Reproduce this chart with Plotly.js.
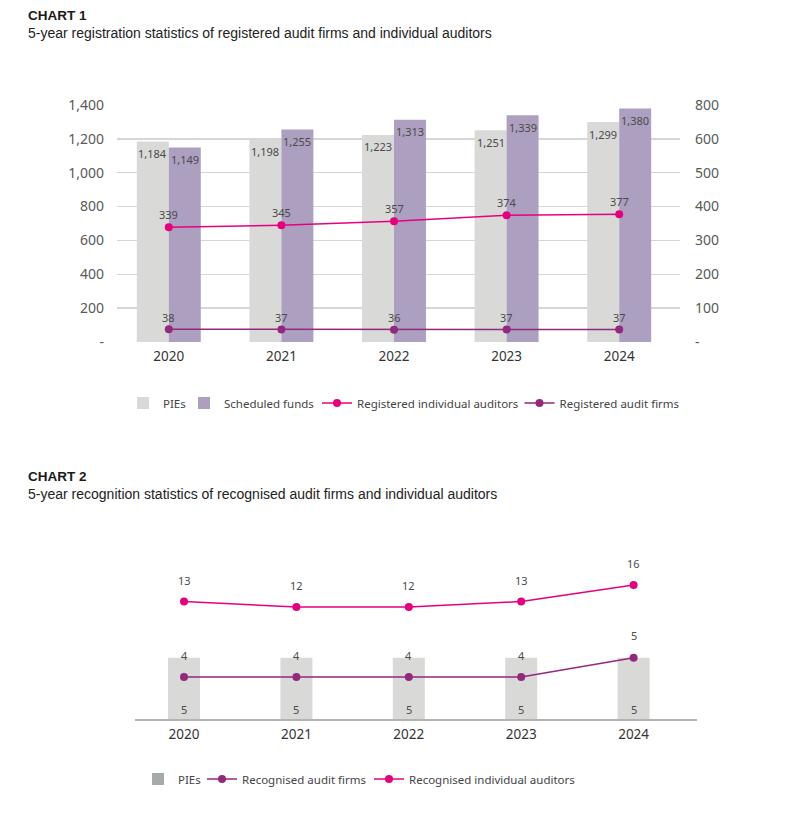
<!DOCTYPE html>
<html>
<head>
<meta charset="utf-8">
<script src="https://cdn.plot.ly/plotly-3.0.1.min.js"></script>
<style>
  html, body { margin: 0; padding: 0; background: #ffffff; }
  #chart { width: 801px; height: 828px; }
  #err { position: absolute; left: 5px; top: 440px; font: 11px monospace; color: red; }
</style>
</head>
<body>
<div id="chart"></div>
<div id="err"></div>
<script>
window.onerror = function (m) { document.getElementById('err').textContent += ' ' + m; };
// ---------- DATA ----------
// Chart 1: registration statistics
const years = ['2020', '2021', '2022', '2023', '2024'];
const piesRegistered = [1184, 1198, 1223, 1251, 1299];
const scheduledFunds = [1149, 1255, 1313, 1339, 1380];
const registeredIndividualAuditors = [339, 345, 357, 374, 377];
const registeredAuditFirms = [38, 37, 36, 37, 37];
const leftTickVals = [0, 200, 400, 600, 800, 1000, 1200, 1400];
const leftTickText = ['-', '200', '400', '600', '800', '1,000', '1,200', '1,400'];
const rightTickVals = [0, 100, 200, 300, 400, 500, 600, 700];
const rightTickText = ['-', '100', '200', '300', '400', '500', '600', '800'];

// Chart 2: recognition statistics
const piesRecognised = [5, 5, 5, 5, 5];
const recognisedAuditFirms = [4, 4, 4, 4, 5];
const recognisedIndividualAuditors = [13, 12, 12, 13, 16];

// ---------- HELPERS ----------
const W = 801, H = 828;
const px = v => v / W;
const py = v => 1 - v / H;
const fmt = n => n.toLocaleString('en-US');

const FONT = 'Noto Sans, Open Sans, DejaVu Sans, sans-serif';
const TITLE_FONT = 'Liberation Sans, Arial, Helvetica, sans-serif';
const C_PIE = '#d9d9d8';
const C_FUND = '#ad9fc0';
const C_IND = '#e6007e';
const C_FIRM = '#93297c';
const C_TEXT = '#4a4a4a';

// ---------- TRACES ----------
const barW = 0.284;
const traces = [
  {
    type: 'bar', name: 'PIEs', x: years, y: piesRegistered,
    xaxis: 'x', yaxis: 'y', width: barW, offset: -barW,
    marker: { color: C_PIE }, legend: 'legend'
  },
  {
    type: 'bar', name: 'Scheduled funds', x: years, y: scheduledFunds,
    xaxis: 'x', yaxis: 'y', width: barW, offset: 0,
    marker: { color: C_FUND }, legend: 'legend3'
  },
  {
    type: 'scatter', mode: 'lines+markers', name: 'Registered individual auditors',
    x: years, y: registeredIndividualAuditors, xaxis: 'x', yaxis: 'y2',
    line: { color: C_IND, width: 1.5 }, marker: { color: C_IND, size: 8 }, legend: 'legend4'
  },
  {
    type: 'scatter', mode: 'lines+markers', name: 'Registered audit firms',
    x: years, y: registeredAuditFirms, xaxis: 'x', yaxis: 'y2',
    line: { color: C_FIRM, width: 1.5 }, marker: { color: C_FIRM, size: 8 }, legend: 'legend5'
  },
  // Chart 2
  {
    type: 'bar', name: 'PIEs', x: years, y: piesRecognised,
    xaxis: 'x2', yaxis: 'y3', width: 0.285,
    marker: { color: C_PIE }, showlegend: false
  },
  {
    // legend-only swatch (no visible mark): the reference legend uses a darker grey
    type: 'bar', name: 'PIEs', x: years, y: years.map(() => null),
    xaxis: 'x2', yaxis: 'y3', marker: { color: '#a4aba8' }, legend: 'legend2'
  },
  {
    type: 'scatter', mode: 'lines+markers', name: 'Recognised audit firms',
    x: years, y: recognisedAuditFirms, xaxis: 'x2', yaxis: 'y4',
    line: { color: C_FIRM, width: 1.5 }, marker: { color: C_FIRM, size: 8 }, legend: 'legend6'
  },
  {
    type: 'scatter', mode: 'lines+markers', name: 'Recognised individual auditors',
    x: years, y: recognisedIndividualAuditors, xaxis: 'x2', yaxis: 'y5',
    line: { color: C_IND, width: 1.5 }, marker: { color: C_IND, size: 8 }, legend: 'legend7'
  }
];

// ---------- ANNOTATIONS ----------
const annotations = [
  { xref: 'paper', yref: 'paper', x: px(26), y: py(16), xanchor: 'left', yanchor: 'middle',
    text: '<b>CHART 1</b>', showarrow: false, font: { family: TITLE_FONT, size: 13.5, color: '#1a1a1a' } },
  { xref: 'paper', yref: 'paper', x: px(26), y: py(33), xanchor: 'left', yanchor: 'middle',
    text: '5-year registration statistics of registered audit firms and individual auditors',
    showarrow: false, font: { family: TITLE_FONT, size: 14, color: '#222' } },
  { xref: 'paper', yref: 'paper', x: px(26), y: py(476.5), xanchor: 'left', yanchor: 'middle',
    text: '<b>CHART 2</b>', showarrow: false, font: { family: TITLE_FONT, size: 13.5, color: '#1a1a1a' } },
  { xref: 'paper', yref: 'paper', x: px(26), y: py(493.5), xanchor: 'left', yanchor: 'middle',
    text: '5-year recognition statistics of recognised audit firms and individual auditors',
    showarrow: false, font: { family: TITLE_FONT, size: 14, color: '#222' } }
];

function lbl(xref, yref, xi, yv, text, xshift, yshift) {
  return { xref: xref, yref: yref, x: xi, y: yv, xshift: xshift, yshift: yshift,
    text: text, showarrow: false, xanchor: 'center', yanchor: 'middle',
    font: { family: FONT, size: 11, color: C_TEXT } };
}
years.forEach((yr, i) => {
  annotations.push(lbl('x', 'y', i, piesRegistered[i], fmt(piesRegistered[i]), -16, -12));
  annotations.push(lbl('x', 'y', i, scheduledFunds[i], fmt(scheduledFunds[i]), 16, -12));
  annotations.push(lbl('x', 'y2', i, registeredIndividualAuditors[i], fmt(registeredIndividualAuditors[i]), 0, 13));
  annotations.push(lbl('x', 'y2', i, registeredAuditFirms[i], fmt(registeredAuditFirms[i]), 0, 12));
  annotations.push(lbl('x2', 'y3', i, 0, String(piesRecognised[i]), 0, 10));
  annotations.push(lbl('x2', 'y4', i, recognisedAuditFirms[i], String(recognisedAuditFirms[i]), 0, 22));
  annotations.push(lbl('x2', 'y5', i, recognisedIndividualAuditors[i], String(recognisedIndividualAuditors[i]), 0, 21));
});

// ---------- LAYOUT ----------
const tickFont = { family: FONT, size: 14, color: '#595959' };
const yearFont = { family: FONT, size: 13.5, color: '#333333' };
const legFont = { family: FONT, size: 11.5, color: '#444' };
function leg(xPix, yPix) {
  return { orientation: 'h', x: px(xPix), xanchor: 'left', y: py(yPix), yanchor: 'middle',
    font: legFont, bgcolor: 'rgba(0,0,0,0)' };
}

const layout = {
  width: W, height: H,
  margin: { l: 0, r: 0, t: 0, b: 0, pad: 0 },
  paper_bgcolor: '#ffffff', plot_bgcolor: 'rgba(0,0,0,0)',
  barmode: 'overlay',
  hovermode: false,
  font: { family: FONT, color: C_TEXT },
  xaxis: {
    domain: [px(117), px(680)], anchor: 'y', type: 'category',
    range: [-0.46, 4.54], showgrid: false, showline: false, zeroline: false,
    ticks: '', tickfont: yearFont, ticklabelstandoff: 4, fixedrange: true
  },
  yaxis: {
    domain: [py(342), py(105)], anchor: 'x', range: [0, 1400],
    tickmode: 'array', tickvals: leftTickVals, ticktext: leftTickText,
    showgrid: true, gridcolor: '#d6d6d6', gridwidth: 1.5, zeroline: false, showline: false,
    ticks: '', tickfont: tickFont, ticklabelstandoff: 12, fixedrange: true
  },
  yaxis2: {
    overlaying: 'y', side: 'right', anchor: 'x', range: [0, 700],
    tickmode: 'array', tickvals: rightTickVals, ticktext: rightTickText,
    showgrid: false, zeroline: false, showline: false,
    ticks: '', tickfont: tickFont, ticklabelstandoff: 14, fixedrange: true
  },
  xaxis2: {
    domain: [px(135), px(697)], anchor: 'y3', type: 'category',
    range: [-0.436, 4.564], showgrid: false, zeroline: false,
    showline: true, linecolor: '#b3b3b3', linewidth: 1.5,
    ticks: '', tickfont: yearFont, ticklabelstandoff: 2, fixedrange: true
  },
  yaxis3: {
    domain: [py(719.3), py(560)], anchor: 'x2', range: [0, 12.93], visible: false, fixedrange: true
  },
  yaxis4: {
    overlaying: 'y3', anchor: 'x2', range: [1.81, 10.06], visible: false, fixedrange: true
  },
  yaxis5: {
    overlaying: 'y3', anchor: 'x2', range: [-8.42, 20.54], visible: false, fixedrange: true
  },
  legend: leg(123, 403),
  legend3: leg(184, 403),
  legend4: leg(317, 403),
  legend5: leg(519.5, 403),
  legend2: leg(138, 779),
  legend6: leg(202, 779),
  legend7: leg(369, 779),
  annotations: annotations
};

Plotly.newPlot('chart', traces, layout, { staticPlot: true, displayModeBar: false })
  .catch(e => { document.getElementById('err').textContent += ' ' + e; });
</script>
</body>
</html>
